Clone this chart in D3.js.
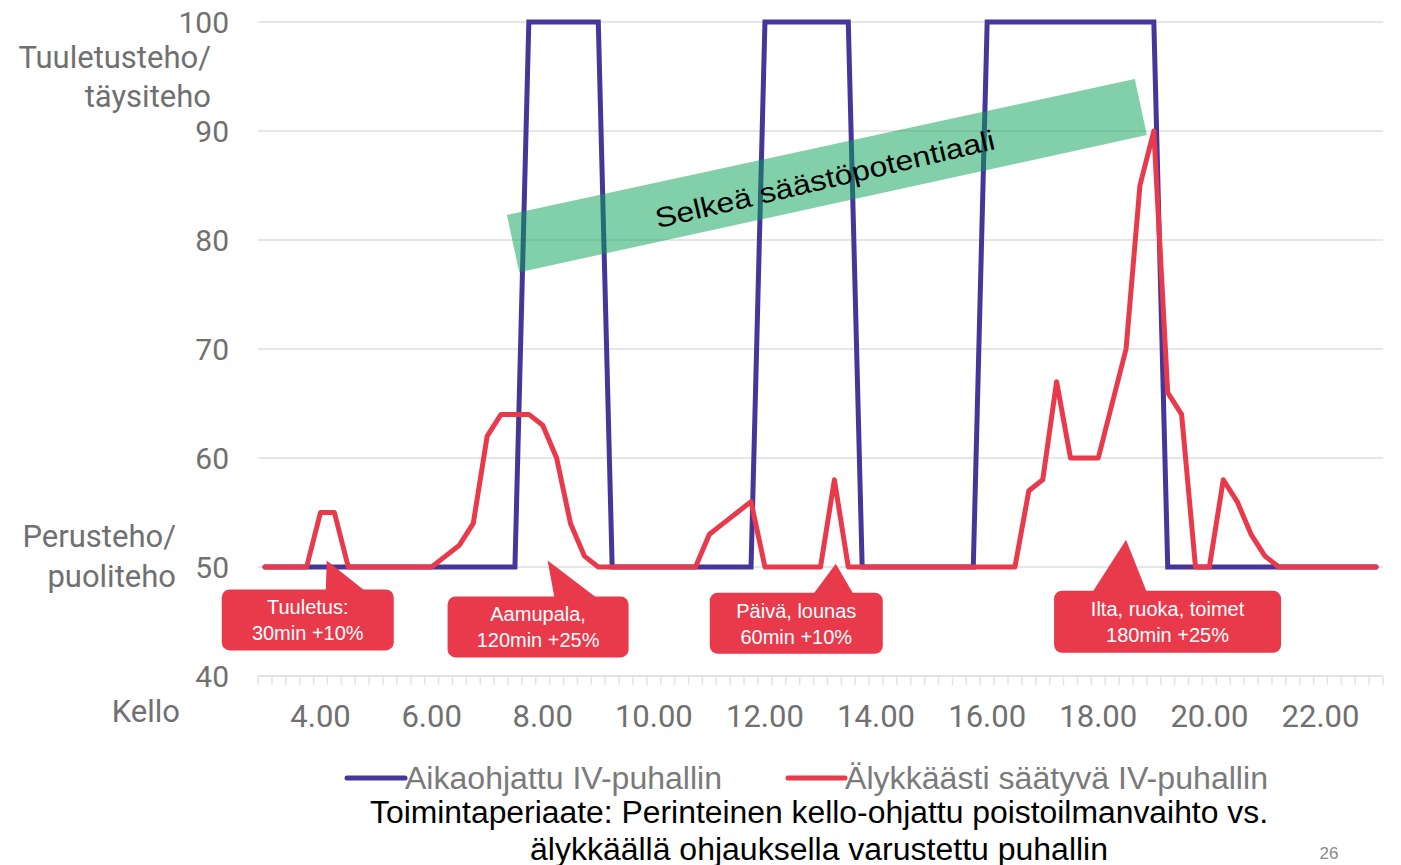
<!DOCTYPE html>
<html lang="fi">
<head>
<meta charset="utf-8">
<title>Tuuletusteho</title>
<script src="https://d3js.org/d3.v7.min.js"></script>
<style>
  body { margin: 0; background: #fff; }
  svg { display: block; }
</style>
</head>
<body>
<div id="chart"></div>
<script>
// quarter-hour categories on the x axis
const times = ["3.00","3.15","3.30","3.45","4.00","4.15","4.30","4.45","5.00","5.15","5.30","5.45",
  "6.00","6.15","6.30","6.45","7.00","7.15","7.30","7.45","8.00","8.15","8.30","8.45",
  "9.00","9.15","9.30","9.45","10.00","10.15","10.30","10.45","11.00","11.15","11.30","11.45",
  "12.00","12.15","12.30","12.45","13.00","13.15","13.30","13.45","14.00","14.15","14.30","14.45",
  "15.00","15.15","15.30","15.45","16.00","16.15","16.30","16.45","17.00","17.15","17.30","17.45",
  "18.00","18.15","18.30","18.45","19.00","19.15","19.30","19.45","20.00","20.15","20.30","20.45",
  "21.00","21.15","21.30","21.45","22.00","22.15","22.30","22.45","23.00"];
const xLabels = ["4.00","6.00","8.00","10.00","12.00","14.00","16.00","18.00","20.00","22.00"];
const yTicks = [40, 50, 60, 70, 80, 90, 100];

// Aikaohjattu IV-puhallin
const timed = [50,50,50,50,50,50,50,50,50,50,50,50,50,50,50,50,50,50,50,
  100,100,100,100,100,100,
  50,50,50,50,50,50,50,50,50,50,50,
  100,100,100,100,100,100,100,
  50,50,50,50,50,50,50,50,50,
  100,100,100,100,100,100,100,100,100,100,100,100,100,
  50,50,50,50,50,50,50,50,50,50,50,50,50,50,50,50];
// Älykkäästi säätyvä IV-puhallin
const smart = [50,50,50,50,55,55,50,50,50,50,50,50,50,
  51,52,54,62,64,64,64,63,60,54,51,50,
  50,50,50,50,50,50,50,53,54,55,56,
  50,50,50,50,50,58,
  50,50,50,50,50,50,50,50,50,50,50,50,50,
  57,58,67,60,60,60,65,70,85,90,66,64,50,50,58,56,53,51,
  50,50,50,50,50,50,50,50];

const seriesNames = ["Aikaohjattu IV-puhallin", "Älykkäästi säätyvä IV-puhallin"];
const colors = ["#46369a", "#e93a4c"];

// callouts: tip at (fractional category index, value), box offsets from tip in px
const callouts = [
  {lines: ["Tuuletus:", "30min +10%"], at: 4.45, val: 50.6, box: [-105, 29, 172, 61], base: [-1, 39]},
  {lines: ["Aamupala,", "120min +25%"], at: 20.35, val: 50.6, box: [-100, 36, 181, 61], base: [7, 50]},
  {lines: ["Päivä, lounas", "60min +10%"], at: 41.1, val: 50.3, box: [-126, 29, 173, 61], base: [-23, 18]},
  {lines: ["Ilta, ruoka, toimet", "180min +25%"], at: 62.0, val: 52.5, box: [-72, 51, 227, 62], base: [-34, 21]}
];
// green band corners as [category index, value]
const band = [[17.42, 82.3], [62.63, 94.77], [63.5, 89.63], [18.31, 77.04]];
const bandText = "Selkeä säästöpotentiaali";

const W = 1401, H = 865;
const svg = d3.select("#chart").append("svg").attr("width", W).attr("height", H);

const x = d3.scaleBand().domain(times).range([258, 1383]).padding(0);
const bw = x.bandwidth();
const xi = i => x(times[0]) + bw / 2 + i * bw;   // fractional index position
const y = d3.scaleLinear().domain([40, 100]).range([676, 22]);

const gray = "#707070";
const axisFont = "Roboto, 'Noto Sans', sans-serif";

// gridlines
svg.append("g").selectAll("line")
  .data(yTicks.filter(d => d > 40))
  .join("line")
    .attr("x1", 258).attr("x2", 1383)
    .attr("y1", d => y(d)).attr("y2", d => y(d))
    .attr("stroke", "#e6e6e6").attr("stroke-width", 2);

// y tick labels
svg.append("g").selectAll("text")
  .data(yTicks)
  .join("text")
    .attr("x", 229).attr("y", d => y(d))
    .attr("text-anchor", "end").attr("dominant-baseline", "central")
    .attr("font-family", axisFont).attr("font-size", 30).attr("fill", gray)
    .text(d => d);

// x axis with a tick at every band edge
const xAxis = d3.axisBottom(x).tickValues(xLabels).tickSize(0).tickPadding(0);
const gx = svg.append("g").attr("transform", `translate(0,${y(40)})`).call(xAxis);
gx.select(".domain").remove();
gx.selectAll(".tick text")
  .attr("y", 40).attr("dy", null).attr("dominant-baseline", "central")
  .attr("font-family", axisFont).attr("font-size", 31).attr("fill", gray);
svg.append("line")
  .attr("x1", 258).attr("x2", 1383).attr("y1", y(40)).attr("y2", y(40))
  .attr("stroke", "#e3e3e3").attr("stroke-width", 2);
svg.append("g").selectAll("line")
  .data(times.map(t => x(t)).concat([x(times[times.length - 1]) + bw]))
  .join("line")
    .attr("x1", d => d).attr("x2", d => d)
    .attr("y1", y(40)).attr("y2", y(40) + 9)
    .attr("stroke", "#e3e3e3").attr("stroke-width", 1.5);

// axis titles
const axisTitles = [
  {t: "Tuuletusteho/", x: 211, y: 57},
  {t: "täysiteho", x: 211, y: 96},
  {t: "Perusteho/", x: 176, y: 536},
  {t: "puoliteho", x: 176, y: 576},
  {t: "Kello", x: 180, y: 711}
];
svg.append("g").selectAll("text")
  .data(axisTitles)
  .join("text")
    .attr("x", d => d.x).attr("y", d => d.y)
    .attr("text-anchor", "end").attr("dominant-baseline", "central")
    .attr("font-family", axisFont).attr("font-size", 31).attr("fill", gray)
    .text(d => d.t);

// lines
const line = d3.line().x((d, i) => xi(i)).y(d => y(d));
svg.append("path").datum(timed)
  .attr("d", line).attr("fill", "none")
  .attr("stroke", colors[0]).attr("stroke-width", 5)
  .attr("stroke-linejoin", "miter").attr("stroke-linecap", "round");
svg.append("path").datum(smart)
  .attr("d", line).attr("fill", "none")
  .attr("stroke", colors[1]).attr("stroke-width", 5)
  .attr("stroke-linejoin", "round").attr("stroke-linecap", "round");

// green band
svg.append("polygon")
  .attr("points", band.map(d => [xi(d[0]), y(d[1])].join(",")).join(" "))
  .attr("fill", "#06a155").attr("fill-opacity", 0.5);
const bc = [d3.mean(band, d => xi(d[0])), d3.mean(band, d => y(d[1]))];
const ang = Math.atan2(y(band[1][1]) - y(band[0][1]), xi(band[1][0]) - xi(band[0][0])) * 180 / Math.PI;
svg.append("text")
  .attr("transform", `translate(${bc[0] - 2},${bc[1] + 4}) rotate(${ang - 1})`)
  .attr("text-anchor", "middle").attr("dominant-baseline", "central")
  .attr("font-family", "'Liberation Sans', Arial, sans-serif").attr("font-size", 28)
  .attr("fill", "#000")
  .attr("textLength", 348).attr("lengthAdjust", "spacingAndGlyphs")
  .text(bandText);

// callouts
const cg = svg.append("g").selectAll("g").data(callouts).join("g")
  .attr("transform", d => `translate(${xi(d.at)},${y(d.val)})`);
cg.append("rect")
  .attr("x", d => d.box[0]).attr("y", d => d.box[1])
  .attr("width", d => d.box[2]).attr("height", d => d.box[3])
  .attr("rx", 8).attr("fill", colors[1]);
cg.append("polygon")
  .attr("points", d => `0,0 ${d.base[0]},${d.box[1] + 2} ${d.base[1]},${d.box[1] + 2}`)
  .attr("fill", colors[1]);
cg.each(function(d) {
  d3.select(this).selectAll("text").data(d.lines).join("text")
    .attr("x", d.box[0] + d.box[2] / 2)
    .attr("y", (l, i) => d.box[1] + 18 + i * 26)
    .attr("text-anchor", "middle").attr("dominant-baseline", "central")
    .attr("font-family", "'Liberation Sans', Arial, sans-serif").attr("font-size", 20)
    .attr("fill", "#fff")
    .text(l => l);
});

// legend
const legend = [
  {x1: 347, x2: 405, tx: 405, tw: 317},
  {x1: 788, x2: 845, tx: 845, tw: 423}
];
const lg = svg.append("g").selectAll("g").data(legend).join("g");
lg.append("line")
  .attr("x1", d => d.x1).attr("x2", d => d.x2).attr("y1", 778).attr("y2", 778)
  .attr("stroke", (d, i) => colors[i]).attr("stroke-width", 5).attr("stroke-linecap", "round");
lg.append("text")
  .attr("x", d => d.tx).attr("y", 778).attr("dominant-baseline", "central")
  .attr("font-family", "'Liberation Sans Narrow', 'Liberation Sans', sans-serif").attr("font-size", 31)
  .attr("fill", "#7a7a7a")
  .attr("textLength", d => d.tw).attr("lengthAdjust", "spacingAndGlyphs")
  .text((d, i) => seriesNames[i]);

// caption
const caption = [
  {t: "Toimintaperiaate: Perinteinen kello-ohjattu poistoilmanvaihto vs.", y: 812, w: 898},
  {t: "älykkäällä ohjauksella varustettu puhallin", y: 849, w: 578}
];
svg.append("g").selectAll("text").data(caption).join("text")
  .attr("x", 819).attr("y", d => d.y)
  .attr("text-anchor", "middle").attr("dominant-baseline", "central")
  .attr("font-family", "'Liberation Sans Narrow', 'Liberation Sans', sans-serif").attr("font-size", 31)
  .attr("fill", "#000")
  .attr("textLength", d => d.w).attr("lengthAdjust", "spacingAndGlyphs")
  .text(d => d.t);

svg.append("text")
  .attr("x", 1329).attr("y", 853).attr("text-anchor", "middle").attr("dominant-baseline", "central")
  .attr("font-family", "'Liberation Sans Narrow', 'Liberation Sans', sans-serif").attr("font-size", 17)
  .attr("fill", "#8a8a8a").text("26");
</script>
</body>
</html>
